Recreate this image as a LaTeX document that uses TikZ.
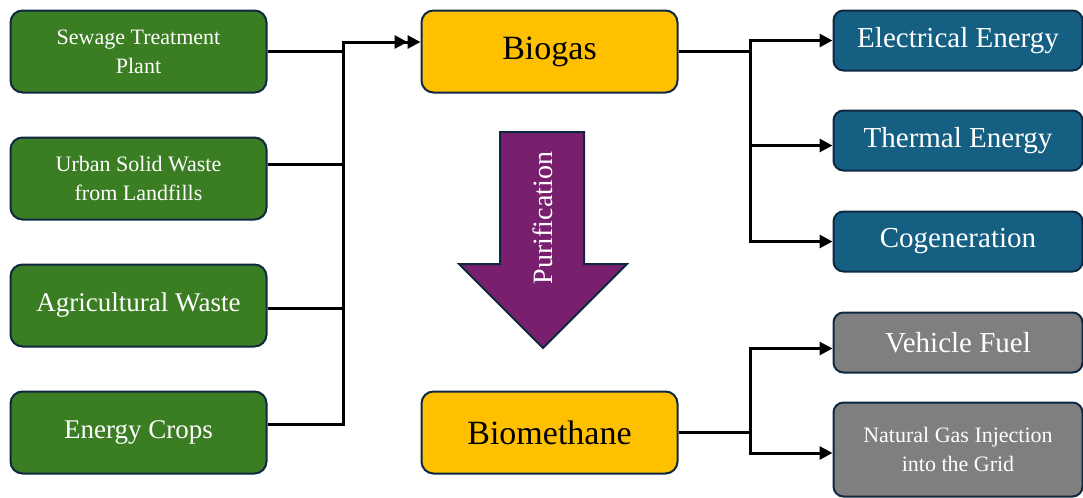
\documentclass[tikz,border=0pt]{standalone}
\usepackage{fontspec}
\setmainfont{Liberation Serif}
\usetikzlibrary{positioning,arrows.meta}
\definecolor{srcgreen}{HTML}{3B7D23}
\definecolor{gasyellow}{HTML}{FFC000}
\definecolor{enrblue}{HTML}{156082}
\definecolor{fuelgray}{HTML}{7F7F7F}
\definecolor{purif}{HTML}{78206E}
\definecolor{edge}{HTML}{0E2841}

\begin{document}
\begin{tikzpicture}[node distance=21.5pt and 76.5pt, every node/.style={align=center},
  src/.style={draw=edge,line width=1pt,rounded corners=6pt,minimum width=128pt,minimum height=41pt,fill=srcgreen,text=white,font=\fontsize{13.5}{16}\selectfont},
  small/.style={font=\fontsize{11}{14.5}\selectfont},
  gas/.style={src,fill=gasyellow,text=black,font=\fontsize{17}{20}\selectfont},
  enr/.style={draw=edge,line width=1pt,rounded corners=5pt,minimum width=124.5pt,minimum height=30pt,fill=enrblue,text=white,font=\fontsize{14.5}{17}\selectfont},
  fuel/.style={enr,fill=fuelgray},
  conn/.style={line width=1.5pt}, >={Triangle[length=6.5pt,width=6.5pt]}]
\useasboundingbox (0,0) rectangle (541.5pt,-249pt);
% sources
\node[src,small] (sew) at (69.25pt,-25.75pt) {Sewage Treatment\\Plant};
\node[src,small,below=of sew] (urb) {Urban Solid Waste\\from Landfills};
\node[src,below=of urb] (agr) {Agricultural Waste};
\node[src,below=of agr] (crop) {Energy Crops};
% gases
\node[gas,right=of sew] (bio) {Biogas};
\node[gas,right=of crop] (bme) {Biomethane};
% uses
\node[enr,right=77pt of bio.north east,anchor=north west] (ele) {Electrical Energy};
\node[enr,below=19pt of ele] (the) {Thermal Energy};
\node[enr,below=19.5pt of the] (cog) {Cogeneration};
\node[fuel,below=19.5pt of cog] (veh) {Vehicle Fuel};
\node[fuel,small,below=14pt of veh,minimum height=47pt] (ngi) {Natural Gas Injection\\into the Grid};
% purification arrow
\draw[edge,line width=1pt,fill=purif] (250pt,-66pt) -- (292pt,-66pt) -- (292pt,-132pt) -- (313.5pt,-132pt)
  -- (271.5pt,-174pt) -- (229.5pt,-132pt) -- (250pt,-132pt) -- cycle;
\node[rotate=90,text=white,font=\fontsize{14}{16}\selectfont] (purtxt) at (271.5pt,-109pt) {Purification};
% connectors
\coordinate (jl) at ([xshift=38pt]sew.east);
\draw[conn,->>] ([yshift=4.25pt]crop.east) -| (jl) |- ([yshift=4.75pt]bio.west);
\draw[conn] (sew.east) -- (jl) ([yshift=7pt]urb.east) -- ++(38pt,0) ([yshift=-1.5pt]agr.east) -- ++(38pt,0);
\coordinate (jr) at ([xshift=36pt]bio.east);
\draw[conn,->] (bio.east) -- (jr) |- (ele.west); \draw[conn,->] (jr) |- (cog.west);
\draw[conn,->] ([yshift=-2.5pt]the.west -| jr) -- ([yshift=-2.5pt]the.west);
\coordinate (jm) at (jr |- bme.east);
\draw[conn,->] (bme.east) -- (jm) |- ([yshift=-3pt]veh.west); \draw[conn,->] (jm) |- ([yshift=-1.75pt]ngi.west);
\end{tikzpicture}
\end{document}
